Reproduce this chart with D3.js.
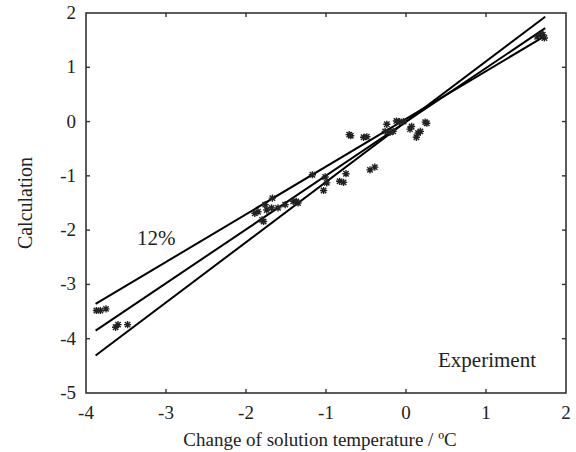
<!DOCTYPE html>
<html><head><meta charset="utf-8">
<script src="https://cdn.jsdelivr.net/npm/d3@7"></script>
<style>body{margin:0;background:#fff}svg{display:block}</style>
</head><body><div id="c"></div>
<script>
const xTicks = [-4,-3,-2,-1,0,1,2];
const yTicks = [-5,-4,-3,-2,-1,0,1,2];
// fitted lines
const lineStarts = [[-3.88,-3.36],[-3.88,-3.85],[-3.88,-4.31]];
const lineEnds   = [[1.74,1.58],[1.74,1.72],[1.74,1.93]];
const expX = [1.64,1.69,1.73,1.71,
  -3.87,-3.82,-3.75,-3.63,-3.60,-3.48,
  -1.17,-1.67,-1.76,-1.85,-1.89,-1.80,-1.74,-1.68,-1.60,-1.51,-1.41,-1.35,-1.78,-1.37,
  -1.01,-0.99,-1.03,-0.83,-0.78,-0.75,-0.45,-0.39,
  -0.71,-0.69,-0.53,-0.49,
  -0.24,-0.12,-0.08,-0.03,0.07,0.05,0.24,0.26,0.18,0.15,0.13,-0.26,-0.20,-0.16];
const expY = [1.56,1.60,1.54,1.60,
  -3.48,-3.48,-3.45,-3.79,-3.74,-3.74,
  -0.98,-1.41,-1.53,-1.66,-1.69,-1.81,-1.63,-1.59,-1.59,-1.53,-1.47,-1.50,-1.84,-1.47,
  -1.02,-1.13,-1.27,-1.10,-1.12,-0.96,-0.89,-0.84,
  -0.24,-0.26,-0.29,-0.28,
  -0.05,0.01,0.00,0.00,-0.09,-0.14,-0.01,-0.03,-0.18,-0.21,-0.29,-0.18,-0.20,-0.18];

const W=576,H=452, FF='"Liberation Serif","Times New Roman",serif';
const svg=d3.select("#c").append("svg").attr("width",W).attr("height",H)
  .attr("font-family",FF);
const x=d3.scaleLinear().domain([-4,2]).range([86,566]);
const y=d3.scaleLinear().domain([-5,2]).range([393,13]);

svg.append("rect").attr("x",86).attr("y",13).attr("width",480).attr("height",380)
  .attr("fill","none").attr("stroke","#333").attr("stroke-width",1.6);

const tl=4, fs=19;
const ax=svg.append("g").attr("stroke","#333").attr("stroke-width",1.4);
xTicks.slice(1,-1).forEach(v=>{
  ax.append("line").attr("x1",x(v)).attr("x2",x(v)).attr("y1",393).attr("y2",393-tl);
  ax.append("line").attr("x1",x(v)).attr("x2",x(v)).attr("y1",13).attr("y2",13+tl);
});
yTicks.slice(1,-1).forEach(v=>{
  ax.append("line").attr("y1",y(v)).attr("y2",y(v)).attr("x1",86).attr("x2",86+tl);
  ax.append("line").attr("y1",y(v)).attr("y2",y(v)).attr("x1",566).attr("x2",566-tl);
});
svg.append("g").selectAll("text").data(xTicks).join("text")
  .attr("x",d=>x(d)).attr("y",419).attr("text-anchor","middle").attr("font-size",fs)
  .attr("fill","#222").text(d=>d);
svg.append("g").selectAll("text").data(yTicks).join("text")
  .attr("x",76).attr("y",d=>y(d)+6).attr("text-anchor","end").attr("font-size",fs)
  .attr("fill","#222").text(d=>d);

svg.append("text").attr("x",320).attr("y",446).attr("text-anchor","middle").attr("font-size",19)
  .attr("fill","#222").text("Change of solution temperature / ºC");
svg.append("text").attr("transform","translate(32,203) rotate(-90)").attr("text-anchor","middle").attr("font-size",20)
  .attr("fill","#222").text("Calculation");

const lg=svg.append("g").attr("stroke","#000").attr("stroke-width",2).attr("fill","none");
lineStarts.forEach((s,i)=>{
  lg.append("line").attr("x1",x(s[0])).attr("y1",y(s[1])).attr("x2",x(lineEnds[i][0])).attr("y2",y(lineEnds[i][1]));
});

const r=3.6, rd=2.7;
const star=`M${-r},0L${r},0M0,${-r}L0,${r}M${-rd},${-rd}L${rd},${rd}M${-rd},${rd}L${rd},${-rd}`;
svg.append("g").selectAll("path").data(expX.map((v,i)=>[v,expY[i]])).join("path")
  .attr("transform",d=>`translate(${x(d[0])},${y(d[1])})`).attr("d",star)
  .attr("stroke","#222").attr("stroke-width",1.4).attr("fill","none");

svg.append("text").attr("x",137).attr("y",245).attr("font-size",21).attr("fill","#222").text("12%");
svg.append("text").attr("x",438).attr("y",367).attr("font-size",21).attr("fill","#222").text("Experiment");
</script></body></html>
